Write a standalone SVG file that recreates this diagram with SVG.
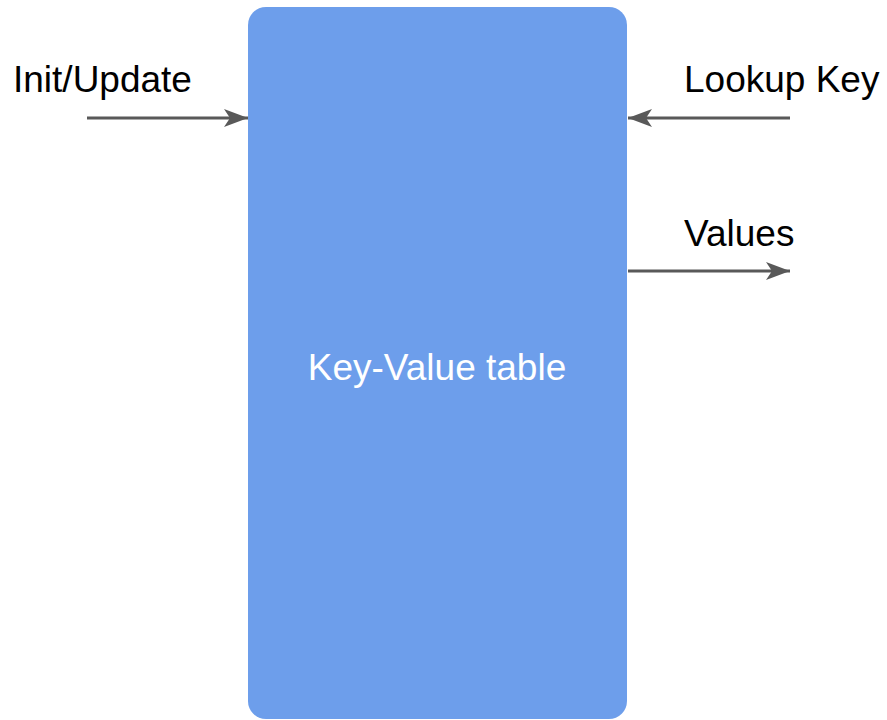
<svg xmlns="http://www.w3.org/2000/svg" width="887" height="720" viewBox="0 0 887 720">
<defs>
<style>
.lbl{font-family:"Liberation Sans",Arial,sans-serif;font-size:37px;fill:#000}
.wl{font-family:"Liberation Sans",Arial,sans-serif;font-size:37px;fill:#fff}
.conn{stroke:#595959;stroke-width:3;fill:none;marker-end:url(#ah)}
</style>
<marker id="ah" markerUnits="userSpaceOnUse" markerWidth="26" markerHeight="20" refX="24" refY="9" orient="auto" viewBox="0 0 26 18">
<path d="M0,0 L24,9 L0,18 L6,9 Z" fill="#595959"/>
</marker>
</defs>
<rect width="887" height="720" fill="#fff"/>
<g id="table">
<rect x="248" y="7" width="379" height="712" rx="18" ry="18" fill="#6d9eeb"/>
<text class="wl" x="437" y="380" text-anchor="middle">Key-Value table</text>
</g>
<g id="init">
<text class="lbl" x="13" y="92">Init/Update</text>
</g>
<g id="lookup">
<text class="lbl" x="684" y="92">Lookup Key</text>
</g>
<g id="values">
<text class="lbl" x="684" y="246">Values</text>
</g>
<g id="connectors">
<line class="conn" x1="87" y1="118" x2="248" y2="118"/>
<line class="conn" x1="790" y1="118" x2="628" y2="118"/>
<line class="conn" x1="628" y1="271" x2="790" y2="271"/>
</g>
</svg>
